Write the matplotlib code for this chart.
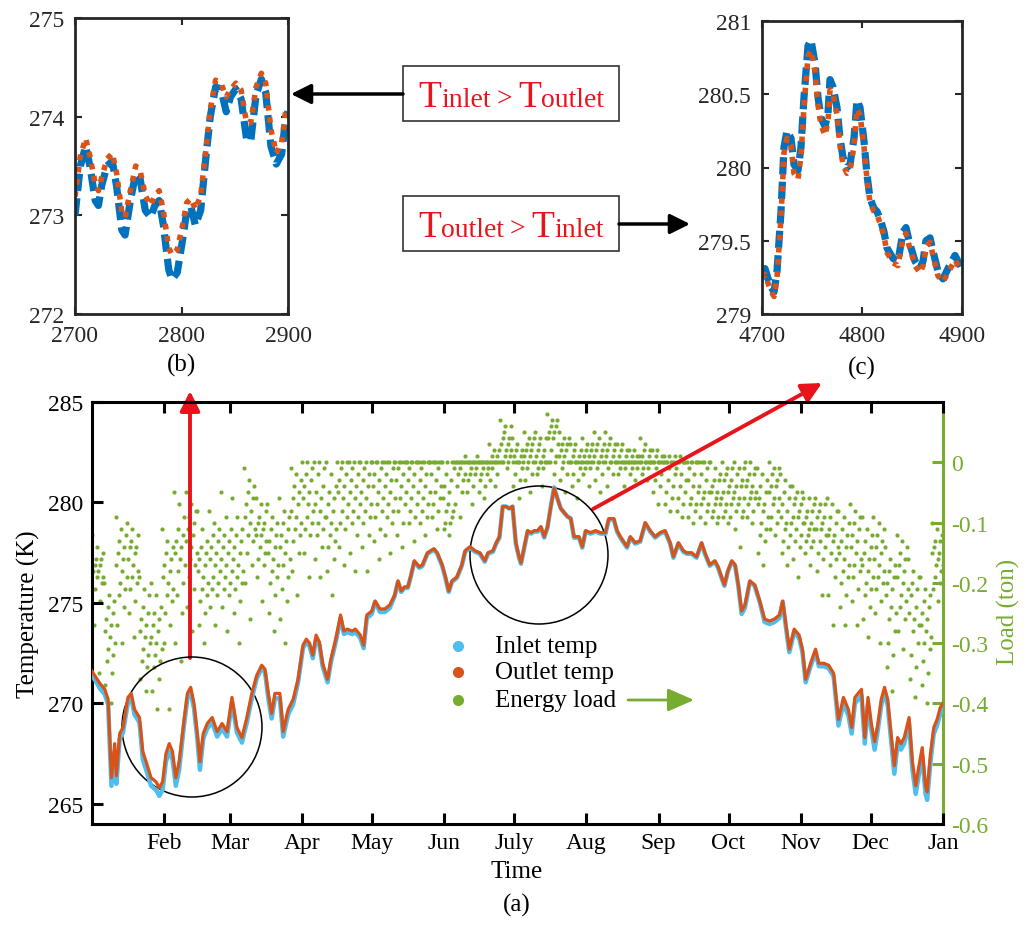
import numpy as np
import matplotlib
matplotlib.use('Agg')
import matplotlib.pyplot as plt
from matplotlib.patches import Ellipse, FancyArrowPatch, Rectangle, ArrowStyle
from matplotlib.lines import Line2D
from matplotlib.transforms import IdentityTransform

plt.rcParams['font.family'] = ['Liberation Serif', 'DejaVu Serif']

# ---------------- data ----------------
month_labels = ['Feb', 'Mar', 'Apr', 'May', 'Jun', 'July', 'Aug', 'Sep', 'Oct', 'Nov', 'Dec', 'Jan']
month_hours = [744, 1416, 2160, 2880, 3624, 4344, 5088, 5832, 6552, 7296, 8016, 8760]

hours = [0, 40, 81, 132, 166, 200, 234, 251, 285, 319,
         370, 404, 438, 489, 523, 557, 608, 659, 693, 727,
         761, 795, 829, 863, 897, 948, 982, 1016, 1050, 1084,
         1111, 1145, 1186, 1237, 1288, 1339, 1390, 1441, 1492, 1543,
         1594, 1645, 1696, 1747, 1781, 1815, 1849, 1883, 1934, 1968,
         2019, 2070, 2121, 2172, 2206, 2240, 2273, 2307, 2341, 2374,
         2425, 2459, 2509, 2559, 2593, 2627, 2678, 2711, 2762, 2796,
         2829, 2880, 2914, 2964, 3015, 3065, 3116, 3150, 3183, 3217,
         3251, 3284, 3318, 3369, 3402, 3453, 3520, 3554, 3604, 3638,
         3672, 3706, 3756, 3807, 3841, 3891, 3942, 3992, 4043, 4077,
         4127, 4161, 4194, 4228, 4262, 4295, 4329, 4363, 4396, 4416,
         4450, 4484, 4518, 4553, 4587, 4621, 4655, 4689, 4723, 4757,
         4791, 4825, 4859, 4894, 4928, 4962, 5013, 5047, 5081, 5132,
         5183, 5234, 5286, 5320, 5371, 5405, 5439, 5507, 5541, 5592,
         5643, 5695, 5746, 5797, 5848, 5899, 5951, 5985, 6036, 6087,
         6121, 6172, 6223, 6275, 6309, 6359, 6411, 6445, 6480, 6510,
         6545, 6586, 6620, 6653, 6687, 6721, 6772, 6822, 6873, 6924,
         6975, 7025, 7076, 7110, 7144, 7178, 7228, 7279, 7313, 7346,
         7397, 7448, 7482, 7532, 7583, 7634, 7684, 7735, 7786, 7820,
         7853, 7887, 7921, 7955, 7988, 8022, 8056, 8090, 8124, 8158,
         8191, 8225, 8259, 8293, 8327, 8361, 8411, 8445, 8479, 8513,
         8546, 8580, 8597, 8631, 8665, 8699, 8732, 8760]

outlet_temp = [271.6, 271.3, 271.0, 270.7, 270.2, 266.3, 268.0, 266.4, 268.5, 268.8,
               270.3, 270.5, 269.7, 269.3, 267.6, 267.1, 266.3, 266.1, 265.8, 266.1,
               267.5, 268.0, 267.6, 266.3, 267.1, 269.2, 270.5, 270.8, 270.0, 268.5,
               267.1, 268.5, 269.0, 269.3, 268.6, 269.0, 268.6, 270.3, 268.8, 268.3,
               269.3, 270.5, 271.4, 271.9, 271.7, 270.5, 269.5, 270.5, 270.5, 268.6,
               269.7, 270.2, 271.2, 272.9, 273.2, 273.0, 272.4, 273.4, 273.05, 272.0,
               271.2, 272.2, 273.2, 274.4, 273.6, 273.7, 273.6, 273.7, 273.4, 272.9,
               274.4, 274.6, 275.1, 274.7, 274.7, 274.9, 275.4, 276.1, 275.6, 275.8,
               275.8, 276.4, 277.1, 276.8, 276.9, 277.5, 277.7, 277.5, 276.9, 276.3,
               275.6, 276.1, 276.3, 276.9, 277.6, 277.8, 277.6, 277.5, 277.1, 277.5,
               277.6, 278.0, 278.3, 279.8, 279.8, 279.7, 279.8, 278.0, 277.3, 277.0,
               277.8, 278.6, 278.5, 278.6, 278.6, 278.8, 278.3, 278.8, 279.8, 280.7,
               280.2, 279.7, 279.5, 279.3, 279.2, 278.3, 278.3, 277.8, 278.6, 278.5,
               278.6, 278.5, 278.5, 279.2, 279.2, 278.6, 278.3, 277.8, 278.3, 278.0,
               278.1, 279.0, 278.6, 278.3, 278.5, 278.6, 278.0, 277.3, 278.0, 277.6,
               277.5, 277.5, 277.3, 278.0, 277.5, 276.9, 277.1, 276.8, 276.3, 275.9,
               276.6, 277.1, 276.9, 275.9, 274.6, 274.9, 276.1, 275.9, 275.1, 274.2,
               274.1, 274.2, 274.4, 275.1, 273.9, 272.7, 273.7, 273.4, 272.7, 271.2,
               272.0, 272.7, 272.0, 272.0, 271.9, 271.5, 269.2, 270.3, 269.7, 268.8,
               270.3, 270.5, 270.7, 268.3, 270.3, 269.0, 268.1, 269.0, 270.2, 270.8,
               270.2, 268.5, 266.9, 268.3, 268.0, 268.3, 269.3, 267.1, 265.9, 266.9,
               267.8, 265.9, 265.6, 267.5, 268.8, 269.2, 269.8, 270.0]

inlet_temp = [271.4, 271.1, 270.75, 270.45, 269.95, 265.9, 267.6, 266.0, 268.25, 268.55,
              270.05, 270.25, 269.45, 269.05, 267.2, 266.7, 265.9, 265.7, 265.4, 265.7,
              267.1, 267.6, 267.2, 265.9, 266.7, 268.95, 270.25, 270.55, 269.75, 268.25,
              266.7, 268.25, 268.75, 269.05, 268.35, 268.75, 268.35, 270.05, 268.55, 268.05,
              269.05, 270.25, 271.25, 271.75, 271.55, 270.25, 269.25, 270.25, 270.25, 268.35,
              269.45, 269.95, 271.05, 272.75, 273.05, 272.85, 272.25, 273.25, 272.9, 271.85,
              271.05, 272.05, 273.05, 274.25, 273.45, 273.55, 273.45, 273.55, 273.25, 272.75,
              274.25, 274.45, 275.05, 274.55, 274.55, 274.75, 275.35, 276.05, 275.55, 275.75,
              275.75, 276.35, 277.05, 276.75, 276.85, 277.45, 277.65, 277.45, 276.85, 276.25,
              275.55, 276.05, 276.25, 276.85, 277.55, 277.75, 277.55, 277.45, 277.05, 277.45,
              277.55, 277.95, 278.25, 279.8, 279.8, 279.7, 279.8, 277.95, 277.25, 276.95,
              277.75, 278.55, 278.45, 278.55, 278.55, 278.75, 278.25, 278.75, 279.8, 280.75,
              280.2, 279.7, 279.5, 279.3, 279.2, 278.25, 278.25, 277.75, 278.55, 278.45,
              278.55, 278.45, 278.45, 279.15, 279.15, 278.55, 278.25, 277.75, 278.25, 277.95,
              278.05, 278.95, 278.55, 278.25, 278.45, 278.55, 277.95, 277.25, 277.95, 277.55,
              277.45, 277.45, 277.25, 277.95, 277.45, 276.85, 277.05, 276.75, 276.25, 275.85,
              276.55, 277.05, 276.85, 275.85, 274.45, 274.75, 276.05, 275.85, 275.05, 274.05,
              273.95, 274.05, 274.25, 275.05, 273.75, 272.55, 273.55, 273.25, 272.55, 271.05,
              271.85, 272.55, 271.85, 271.85, 271.75, 271.35, 268.9, 270.0, 269.4, 268.5,
              270.0, 270.2, 270.4, 268.0, 270.0, 268.7, 267.7, 268.7, 269.9, 270.55,
              269.9, 268.2, 266.5, 268.0, 267.7, 268.0, 269.0, 266.7, 265.5, 266.5,
              267.4, 265.5, 265.2, 267.1, 268.5, 268.9, 269.5, 269.75]

# energy load, in hundredths of a ton: values read for each 5-day (120 h) window
load_bin_hours = 120
load_bins_centi = [
    [-12, -14, -15, -16, -16, -17, -17, -18, -18, -19, -19, -20, -21, -23, -27, -35],
    [-20, -22, -23, -24, -25, -26, -27, -28, -29, -30, -31, -32, -33, -35, -37, -40],
    [-9, -11, -12, -13, -14, -15, -16, -17, -18, -19, -20, -21, -22, -24, -27, -30],
    [-10, -11, -12, -13, -14, -14, -15, -16, -17, -18, -19, -20, -21, -23, -25, -29],
    [-19, -21, -22, -24, -25, -26, -27, -28, -29, -30, -31, -32, -33, -34, -36, -38],
    [-20, -22, -24, -25, -26, -27, -28, -29, -30, -31, -32, -33, -34, -36, -38, -41],
    [-11, -13, -14, -15, -16, -17, -18, -19, -20, -21, -22, -23, -25, -27, -30, -41],
    [-5, -7, -9, -11, -12, -13, -14, -15, -16, -17, -18, -20, -22, -25, -30, -33],
    [-5, -7, -8, -9, -10, -11, -12, -13, -14, -15, -16, -17, -19, -21, -24, -28],
    [-8, -11, -13, -14, -15, -16, -17, -18, -19, -20, -21, -22, -23, -25, -27, -30],
    [-8, -10, -11, -12, -13, -14, -15, -16, -17, -18, -19, -20, -21, -22, -24, -27],
    [-5, -9, -11, -12, -13, -14, -15, -16, -17, -18, -19, -20, -21, -22, -24, -28],
    [-6, -9, -11, -12, -13, -14, -15, -16, -17, -18, -19, -20, -21, -23, -25, -30],
    [-1, -3, -4, -5, -6, -7, -8, -9, -10, -11, -12, -13, -15, -17, -20, -26],
    [-6, -7, -8, -9, -10, -10, -11, -12, -12, -13, -14, -15, -16, -17, -19, -23],
    [-7, -9, -10, -11, -12, -13, -14, -15, -16, -17, -18, -19, -20, -22, -25, -28],
    [-6, -8, -9, -10, -11, -12, -13, -14, -15, -16, -17, -19, -21, -23, -26, -30],
    [-1, -2, -3, -4, -5, -6, -7, -8, -9, -10, -11, -12, -13, -15, -18, -22],
    [0, 0, -1, -2, -3, -4, -5, -6, -7, -8, -9, -10, -11, -12, -15, -19],
    [0, 0, -1, -2, -4, -5, -6, -7, -8, -9, -10, -11, -12, -14, -16, -19],
    [0, -2, -4, -5, -6, -7, -8, -9, -10, -11, -12, -13, -14, -16, -18, -22],
    [0, 0, 0, -1, -2, -3, -4, -5, -6, -7, -8, -9, -10, -11, -14, -17],
    [0, 0, 0, -1, -2, -3, -4, -5, -6, -7, -8, -9, -10, -12, -15, -18],
    [0, 0, 0, -1, -2, -3, -4, -5, -6, -7, -8, -9, -10, -12, -14, -18],
    [0, 0, 0, 0, -1, -2, -3, -4, -5, -6, -7, -8, -9, -11, -13, -16],
    [0, 0, 0, 0, -1, -2, -3, -4, -5, -6, -7, -8, -9, -10, -12, -15],
    [0, 0, 0, 0, 0, -1, -2, -3, -4, -5, -6, -7, -8, -10, -12, -14],
    [0, 0, 0, 0, 0, -1, -2, -3, -4, -5, -6, -7, -8, -9, -10, -13],
    [0, 0, 0, 0, 0, -1, -2, -3, -4, -5, -6, -7, -8, -9, -10, -12],
    [0, 0, 0, 0, 0, 0, -1, -2, -3, -4, -5, -6, -7, -8, -9, -11],
    [0, 0, 0, -2, -3, -4, -5, -6, -7, -8, -8, -9, -10, -10, -11, -12],
    [0, 0, 0, 0, 0, 0, 0, -1, -1, -2, -2, -3, -4, -5, -7, -9],
    [1, 0, 0, 0, 0, 0, 0, 0, -1, -1, -2, -2, -3, -4, -5, -7],
    [1, 0, 0, 0, 0, 0, 0, 0, -1, -1, -2, -2, -3, -4, -5, -6],
    [3, 2, 2, 1, 1, 0, 0, 0, 0, 0, 0, 0, -1, -2, -3, -4],
    [7, 6, 6, 5, 4, 4, 3, 3, 2, 2, 1, 1, 0, 0, 0, -1],
    [4, 3, 2, 2, 1, 1, 0, 0, 0, 0, 0, -1, -2, -3, -4, -6],
    [5, 4, 4, 3, 3, 2, 2, 1, 1, 0, 0, 0, -1, -2, -3, -5],
    [5, 4, 4, 3, 2, 2, 1, 1, 0, 0, 0, 0, -1, -1, -2, -4],
    [8, 7, 7, 6, 6, 5, 5, 4, 4, 3, 2, 1, 0, 0, 0, -2],
    [5, 4, 4, 3, 3, 2, 2, 1, 1, 0, 0, 0, -1, -2, -3, -5],
    [3, 3, 2, 2, 1, 1, 0, 0, 0, 0, 0, -1, -2, -3, -4, -6],
    [4, 3, 3, 2, 2, 1, 1, 0, 0, 0, 0, 0, -1, -1, -2, -4],
    [5, 4, 3, 3, 2, 2, 1, 1, 0, 0, 0, 0, -1, -2, -3, -5],
    [5, 4, 3, 3, 2, 2, 1, 1, 0, 0, 0, 0, -1, -2, -4, -6],
    [3, 3, 2, 2, 1, 1, 0, 0, 0, 0, 0, 0, -1, -1, -2, -4],
    [2, 2, 1, 1, 1, 0, 0, 0, 0, 0, 0, 0, -1, -1, -2, -3],
    [4, 3, 2, 2, 1, 1, 0, 0, 0, 0, 0, 0, -1, -1, -2, -3],
    [2, 2, 1, 1, 0, 0, 0, 0, 0, 0, -1, -2, -3, -4, -5, -7],
    [1, 1, 0, 0, 0, 0, 0, 0, -1, -2, -3, -4, -5, -6, -7, -8],
    [1, 1, 0, 0, 0, 0, 0, -1, -2, -3, -4, -5, -6, -7, -8, -9],
    [0, 0, 0, 0, 0, -1, -2, -3, -4, -5, -6, -7, -7, -8, -9, -10],
    [0, 0, 0, 0, -1, -2, -3, -4, -5, -5, -6, -7, -7, -8, -9, -10],
    [0, -1, -2, -3, -3, -4, -5, -5, -6, -6, -7, -7, -8, -9, -9, -10],
    [0, -1, -1, -2, -3, -3, -4, -5, -5, -6, -7, -7, -8, -9, -9, -10],
    [0, -1, -1, -2, -3, -4, -4, -5, -6, -6, -7, -8, -8, -9, -11, -14],
    [0, 0, -1, -2, -2, -3, -4, -4, -5, -5, -6, -6, -7, -8, -9, -10],
    [-1, -2, -3, -4, -5, -6, -7, -7, -8, -9, -10, -11, -12, -13, -15, -17],
    [0, -1, -1, -2, -3, -4, -4, -5, -6, -6, -7, -8, -9, -10, -11, -12],
    [-2, -3, -4, -5, -6, -7, -8, -9, -10, -10, -11, -12, -13, -14, -15, -17],
    [-4, -5, -5, -6, -7, -7, -8, -9, -9, -10, -11, -12, -13, -14, -16, -19],
    [-6, -6, -7, -8, -8, -9, -10, -10, -11, -11, -12, -13, -13, -14, -15, -17],
    [-6, -7, -7, -8, -9, -9, -10, -11, -11, -12, -13, -14, -15, -16, -18, -22],
    [-6, -7, -8, -9, -10, -11, -12, -12, -13, -14, -15, -16, -17, -19, -22, -27],
    [-8, -9, -10, -11, -12, -13, -14, -15, -16, -17, -18, -19, -20, -22, -24, -27],
    [-7, -8, -9, -10, -11, -12, -13, -14, -15, -16, -17, -18, -19, -21, -23, -27],
    [-9, -11, -12, -13, -14, -15, -16, -17, -18, -19, -20, -21, -22, -24, -26, -29],
    [-9, -10, -11, -12, -13, -14, -15, -16, -17, -18, -19, -20, -21, -23, -25, -30],
    [-14, -16, -17, -18, -19, -20, -21, -22, -24, -25, -26, -28, -30, -32, -34, -38],
    [-12, -13, -14, -15, -16, -17, -18, -19, -20, -21, -22, -23, -24, -26, -28, -31],
    [-16, -18, -19, -20, -21, -22, -24, -25, -26, -27, -28, -30, -32, -34, -36, -39],
    [-19, -21, -22, -23, -24, -25, -26, -27, -28, -29, -30, -31, -33, -35, -37, -40],
    [-10, -11, -12, -13, -13, -14, -15, -15, -16, -17, -17, -18, -19, -20, -21, -23],
]

# zoom (b): hours 2700-2900
b_hours = [2700, 2705, 2710, 2714, 2719, 2722, 2725, 2730, 2735, 2739,
           2744, 2747, 2752, 2757, 2761, 2766, 2771, 2775, 2779, 2783,
           2788, 2791, 2796, 2801, 2805, 2809, 2813, 2818, 2823, 2827,
           2832, 2837, 2842, 2846, 2851, 2856, 2861, 2865, 2870, 2875,
           2879, 2884, 2889, 2894, 2898, 2900]
b_outlet = [273.19, 273.6, 273.78, 273.6, 273.32, 273.25, 273.38, 273.57, 273.63, 273.43,
            273.03, 272.98, 273.25, 273.5, 273.46, 273.2, 273.1, 273.2, 273.25, 273.04,
            272.67, 272.6, 272.65, 272.9, 273.13, 273.17, 273.06, 273.2, 273.67, 274.07,
            274.37, 274.34, 274.2, 274.27, 274.34, 274.27, 273.94, 273.94, 274.3, 274.44,
            274.34, 273.87, 273.63, 273.73, 274.07, 274.1]
b_inlet = [273.0, 273.5, 273.7, 273.5, 273.15, 273.1, 273.3, 273.5, 273.55, 273.3,
           272.85, 272.8, 273.15, 273.42, 273.38, 273.05, 272.98, 273.1, 273.15, 272.9,
           272.45, 272.35, 272.42, 272.75, 273.05, 273.08, 272.9, 273.05, 273.6, 274.0,
           274.3, 274.28, 274.05, 274.2, 274.28, 274.18, 273.78, 273.75, 274.22, 274.38,
           274.25, 273.7, 273.52, 273.62, 274.0, 274.05]

# zoom (c): hours 4700-4900
c_hours = [4700, 4703, 4708, 4712, 4715, 4719, 4722, 4725, 4729, 4732,
           4736, 4739, 4742, 4746, 4749, 4753, 4756, 4759, 4763, 4766,
           4768, 4771, 4775, 4778, 4781, 4785, 4788, 4792, 4795, 4798,
           4802, 4805, 4808, 4812, 4815, 4819, 4822, 4825, 4831, 4836,
           4841, 4844, 4847, 4853, 4858, 4861, 4864, 4868, 4871, 4876,
           4881, 4886, 4893, 4896, 4900]
c_inlet = [279.29, 279.31, 279.2, 279.15, 279.29, 279.7, 280.14, 280.25, 280.2, 280.02,
           279.98, 280.14, 280.48, 280.83, 280.87, 280.71, 280.48, 280.34, 280.28, 280.37,
           280.6, 280.55, 280.41, 280.2, 280.07, 280.0, 280.02, 280.2, 280.46, 280.41,
           280.18, 279.95, 279.79, 279.72, 279.7, 279.63, 279.56, 279.45, 279.38, 279.36,
           279.56, 279.59, 279.5, 279.36, 279.31, 279.36, 279.5, 279.52, 279.43, 279.29,
           279.24, 279.31, 279.4, 279.36, 279.31]
c_outlet = [279.24, 279.27, 279.17, 279.12, 279.25, 279.66, 280.1, 280.2, 280.15, 279.96,
            279.92, 280.08, 280.42, 280.76, 280.8, 280.66, 280.43, 280.29, 280.22, 280.31,
            280.53, 280.5, 280.36, 280.15, 280.02, 279.96, 279.98, 280.15, 280.4, 280.36,
            280.14, 279.92, 279.76, 279.7, 279.68, 279.6, 279.53, 279.42, 279.35, 279.33,
            279.52, 279.55, 279.47, 279.33, 279.28, 279.33, 279.46, 279.49, 279.4, 279.26,
            279.22, 279.28, 279.37, 279.33, 279.29]

# ---------------- styling ----------------
W, H = 1034, 928
BLUE_MAIN = '#4DBEEE'
BLUE = '#0072BD'
ORANGE = '#D95319'
GREEN = '#77AC30'
RED = '#E8141B'
DARK = '#262626'
TICK_FS = 17

fig = plt.figure(figsize=(W / 100, H / 100), dpi=100)
ID = IdentityTransform()


def P(px, py):
    return (px, H - py)


def axrect(l, t, r, b):
    return [l / W, 1 - b / H, (r - l) / W, (b - t) / H]


# ---------------- main axes ----------------
ax = fig.add_axes(axrect(92, 403, 943, 825))
ax2 = ax.twinx()
ax.set_zorder(ax2.get_zorder() + 1)
ax.patch.set_visible(False)

ax.plot(hours, inlet_temp, color=BLUE_MAIN, lw=3.2, solid_joinstyle='round', zorder=3)
ax.plot(hours, outlet_temp, color=ORANGE, lw=2.3, solid_joinstyle='round', zorder=4)
ax.set_xlim(0, 8760)
ax.set_ylim(264, 285)
ax.set_yticks([265, 270, 275, 280, 285])
ax.set_xticks(month_hours, labels=month_labels)
ax.tick_params(axis='both', direction='in', length=8, width=2.2, labelsize=TICK_FS,
               top=True, right=False, colors='black', pad=6)
for s in ['left', 'bottom', 'top']:
    ax.spines[s].set_linewidth(2.2)
    ax.spines[s].set_color('black')
ax.spines['right'].set_visible(False)
ax.set_ylabel('Temperature (K)', fontsize=18, labelpad=6)

load_x, load_y = [], []
for i, vals in enumerate(load_bins_centi):
    n = len(vals)
    step = load_bin_hours / n
    for j in range(n):
        k = (j * 7) % n
        load_x.append(i * load_bin_hours + step * (j + 0.5))
        load_y.append(vals[k] / 100.0)
ax2.scatter(load_x, load_y, s=9, color=GREEN, linewidths=0, zorder=1)
ax2.set_ylim(-0.6, 0.1)
ytk = [0, -0.1, -0.2, -0.3, -0.4, -0.5, -0.6]
ax2.set_yticks(ytk, labels=[f'{v:g}' for v in ytk])
ax2.tick_params(axis='y', direction='in', length=8, width=2.2, labelsize=TICK_FS,
                colors=GREEN, pad=6)
for s in ['left', 'bottom', 'top']:
    ax2.spines[s].set_visible(False)
ax2.spines['right'].set_color(GREEN)
ax2.spines['right'].set_linewidth(2.2)

fig.text(1008 / W, 1 - 612 / H, 'Load (ton)', rotation=90, color=GREEN, fontsize=18,
         ha='center', va='center')
fig.text(517 / W, 1 - 872 / H, 'Time', fontsize=18, ha='center', va='center')
fig.text(517 / W, 1 - 905 / H, '(a)', fontsize=18, ha='center', va='center')


# ---------------- insets ----------------
def style_inset(a):
    a.tick_params(axis='both', direction='in', length=5, width=1.5, labelsize=TICK_FS,
                  top=True, right=True, colors=DARK, pad=8)
    for s in a.spines.values():
        s.set_linewidth(2.0)
        s.set_color(DARK)


axb = fig.add_axes(axrect(75, 19, 288, 315))
axb.plot(b_hours, b_inlet, color=BLUE, lw=5.2, ls=(0, (2.4, 1.0)))
axb.plot(b_hours, b_outlet, color=ORANGE, lw=4.0, ls=(0, (1, 1.2)))
axb.set_xlim(2700, 2900)
axb.set_ylim(272, 275)
axb.set_xticks([2700, 2800, 2900])
axb.set_yticks([272, 273, 274, 275])
style_inset(axb)

axc = fig.add_axes(axrect(762, 22, 962, 315))
axc.plot(c_hours, c_inlet, color=BLUE, lw=5.2, ls=(0, (2.4, 1.0)))
axc.plot(c_hours, c_outlet, color=ORANGE, lw=4.0, ls=(0, (1, 1.2)))
axc.set_xlim(4700, 4900)
axc.set_ylim(279, 281)
axc.set_xticks([4700, 4800, 4900])
axc.set_yticks([279, 279.5, 280, 280.5, 281], labels=['279', '279.5', '280', '280.5', '281'])
style_inset(axc)

fig.text(181 / W, 1 - 365 / H, '(b)', fontsize=18, ha='center', va='center')
fig.text(862 / W, 1 - 368 / H, '(c)', fontsize=18, ha='center', va='center')

# ---------------- annotation boxes ----------------
renderer = fig.canvas.get_renderer()


def rich_text(cx, baseline_py, pieces):
    items = []
    x = 0.0
    for s, size, gap in pieces:
        x += gap
        t = fig.text(0, 0, s, fontsize=size, color=RED, ha='left', va='baseline', transform=ID)
        w = t.get_window_extent(renderer).width
        items.append((t, x))
        x += w
    x0 = cx - x / 2
    for t, off in items:
        t.set_position((x0 + off, H - baseline_py))


for (l, t, r, b) in [(403, 67, 619, 122), (403, 197, 619, 252)]:
    fig.add_artist(Rectangle(P(l, b), r - l, b - t, transform=ID, fill=True,
                             facecolor='white', edgecolor='#333333', lw=1.2))

BIG, SMALL = 27, 20
rich_text(511, 107, [('T', BIG, 0), ('inlet', SMALL, 0), ('>', SMALL, 6), ('T', BIG, 6), ('outlet', SMALL, 0)])
rich_text(511, 237, [('T', BIG, 0), ('outlet', SMALL, 0), ('>', SMALL, 6), ('T', BIG, 6), ('inlet', SMALL, 0)])


def arrow(p0, p1, color, lw, hl=0.6, hw=0.3, ms=20):
    fig.add_artist(FancyArrowPatch(P(*p0), P(*p1), transform=ID,
                                   arrowstyle=ArrowStyle('-|>', head_length=hl, head_width=hw),
                                   mutation_scale=ms, color=color, lw=lw,
                                   shrinkA=0, shrinkB=0))


arrow((403, 95), (291, 95), 'black', 2.5)
arrow((619, 225), (690, 225), 'black', 2.5)
arrow((190, 659), (190, 392), RED, 2.8)
arrow((593, 510), (822, 384), RED, 2.8)

# circles
fig.add_artist(Ellipse(P(192, 728), 140, 140, transform=ID, fill=False, ec='black', lw=1.1))
fig.add_artist(Ellipse(P(539, 556), 138, 138, transform=ID, fill=False, ec='black', lw=1.1))

# ---------------- legend ----------------
for py, c, lab in [(647, BLUE_MAIN, 'Inlet temp'), (673, ORANGE, 'Outlet temp'),
                   (701, GREEN, 'Energy load')]:
    fig.add_artist(Line2D([458], [H - py], marker='o', ms=7, color=c, ls='', transform=ID))
    fig.text(495, H - py, lab, fontsize=18, ha='left', va='center', transform=ID)
arrow((628, 701), (694, 701), GREEN, 2.0, hl=0.8, hw=0.35, ms=20)

fig.savefig('out.png', dpi=100)
